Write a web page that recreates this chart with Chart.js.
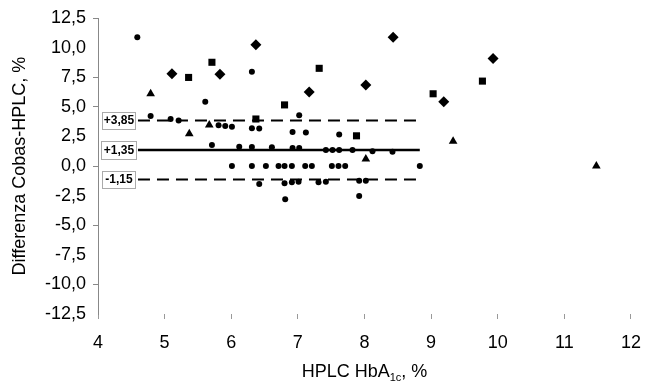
<!DOCTYPE html>
<html lang="it">
<head>
    <meta charset="UTF-8">
    <title>Cobas vs HPLC</title>
    <style>
        body{
            margin: 0;
            overflow: hidden;
            background: #fff;
            font-family: "Liberation Sans", Arial, sans-serif;
        }
        #wrap{
            width: 654px;
            height: 385px;
        }
    </style>
</head>
<body>
<div id="wrap"><canvas id="chart"></canvas></div>
<script src="https://cdn.jsdelivr.net/npm/chart.js"></script>
<script>
    // values: x = HPLC HbA1c (%), y = Cobas-HPLC difference (%)
    const circleX = [4.59, 6.31, 5.61, 4.79, 5.09, 5.21, 5.81, 5.91, 6.01, 6.31, 6.42, 7.02, 6.92, 7.12, 7.62,
        5.71, 6.12, 6.31, 6.61, 6.92, 7.02, 7.42, 7.52, 7.62, 7.82, 8.12, 8.42,
        6.01, 6.31, 6.52, 6.71, 6.80, 6.91, 7.11, 7.21, 7.51, 7.61, 7.71, 8.83,
        6.42, 6.80, 6.91, 7.01, 7.31, 7.42, 7.92, 8.02, 6.81, 7.92];
    const circleY = [10.87, 7.97, 5.42, 4.22, 3.97, 3.85, 3.44, 3.38, 3.31, 3.19, 3.17, 4.28, 2.88, 2.83, 2.66,
        1.77, 1.62, 1.60, 1.58, 1.52, 1.52, 1.36, 1.36, 1.36, 1.36, 1.24, 1.21,
        0, 0, 0, 0, 0, 0, 0, 0, 0, 0, 0, 0,
        -1.53, -1.45, -1.38, -1.33, -1.38, -1.33, -1.24, -1.24, -2.80, -2.54];

    const squareX = [5.36, 5.71, 6.80, 6.37, 7.32, 7.88, 9.03, 9.77];
    const squareY = [7.48, 8.76, 5.16, 3.97, 8.25, 2.55, 6.10, 7.17];

    const diamondX = [5.11, 5.83, 6.37, 7.17, 8.02, 8.43, 9.19, 9.93];
    const diamondY = [7.80, 7.74, 10.25, 6.24, 6.84, 10.87, 5.42, 9.07];

    const triangleX = [4.79, 5.37, 5.67, 8.02, 9.33, 11.48];
    const triangleY = [6.10, 2.73, 3.46, 0.60, 2.09, 0];

    // mean difference and limits of agreement
    const limits = [3.85, 1.35, -1.15];
    const limitLabels = ['+3,85', '+1,35', '-1,15'];
    const lineFrom = 4.6;
    const lineTo = 8.83;

    const yTicksShown = [12.5, 7.5, 5, 0, -5, -10];

    function pts(xs, ys){
        return xs.map((x, i) => ({x: x, y: ys[i]}));
    }
    function comma(v){
        return v.toFixed(1).replace('.', ',');
    }

    const markers = [
        {data: pts(circleX, circleY), pointStyle: 'circle', pointRadius: 3},
        {data: pts(squareX, squareY), pointStyle: 'rect', pointRadius: 5},
        {data: pts(diamondX, diamondY), pointStyle: 'rectRot', pointRadius: 5.5},
        {data: pts(triangleX, triangleY), pointStyle: 'triangle', pointRadius: 5}
    ].map(d => Object.assign(d, {
        backgroundColor: '#000',
        borderColor: '#000',
        borderWidth: 0,
        showLine: false,
        order: 1
    }));

    const lines = limits.map((v, i) => ({
        data: [{x: lineFrom, y: v}, {x: lineTo, y: v}],
        showLine: true,
        borderColor: '#000',
        borderWidth: i === 1 ? 2.5 : 2,
        borderDash: i === 1 ? [] : [12, 7],
        pointRadius: 0,
        order: 2
    }));

    // boxed labels for the three lines, and the x title with its subscript
    const extras = {
        id: 'extras',
        afterDatasetsDraw(chart){
            const ctx = chart.ctx;
            const ys = chart.scales.y;
            ctx.save();
            limits.forEach((v, i) => {
                const cy = ys.getPixelForValue(v);
                const w = i === 1 ? 35 : 33;
                const h = i === 1 ? 18 : 17;
                const x0 = i === 1 ? 101.5 : 102.5;
                ctx.fillStyle = '#fff';
                ctx.fillRect(x0, cy - h / 2, w, h);
                ctx.strokeStyle = '#aaa';
                ctx.lineWidth = 1;
                ctx.strokeRect(x0, Math.round(cy - h / 2) + 0.5, w, h);
                ctx.fillStyle = '#000';
                ctx.font = 'bold 12px "Liberation Sans", Arial, sans-serif';
                ctx.textAlign = 'center';
                ctx.textBaseline = 'middle';
                ctx.fillText(limitLabels[i], x0 + w / 2, cy + 0.5);
            });
            ctx.restore();
        },
        afterDraw(chart){
            const ctx = chart.ctx;
            const xs = chart.scales.x;
            const big = '18px "Liberation Sans", Arial, sans-serif';
            const small = '11px "Liberation Sans", Arial, sans-serif';
            const a = 'HPLC HbA', b = '1c', c = ', %';
            ctx.save();
            ctx.fillStyle = '#000';
            ctx.textBaseline = 'alphabetic';
            ctx.textAlign = 'left';
            ctx.font = big;
            const wa = ctx.measureText(a).width;
            const wc = ctx.measureText(c).width;
            ctx.font = small;
            const wb = ctx.measureText(b).width;
            const base = 377;
            let x = (xs.left + xs.right) / 2 - (wa + wb + wc) / 2;
            ctx.font = big;
            ctx.fillText(a, x, base);
            x += wa;
            ctx.font = small;
            ctx.fillText(b, x, base + 4);
            x += wb;
            ctx.font = big;
            ctx.fillText(c, x, base);
            ctx.restore();
        }
    };

    new Chart(document.getElementById('chart'), {
        type: 'scatter',
        data: {datasets: markers.concat(lines)},
        plugins: [extras],
        options: {
            responsive: true,
            maintainAspectRatio: false,
            animation: false,
            layout: {padding: {top: 18, right: 14, bottom: 0, left: 0}},
            plugins: {
                legend: {display: false},
                tooltip: {enabled: false}
            },
            scales: {
                x: {
                    type: 'linear',
                    min: 4,
                    max: 12,
                    afterFit: s => { s.height = 71; },
                    ticks: {
                        stepSize: 1,
                        color: '#000',
                        padding: 13,
                        font: {family: '"Liberation Sans", Arial, sans-serif', size: 18}
                    },
                    grid: {
                        drawOnChartArea: false,
                        tickLength: 5,
                        color: '#999'
                    },
                    border: {display: false}
                },
                y: {
                    min: -12.5,
                    max: 12.5,
                    afterFit: s => { s.width = 98; },
                    ticks: {
                        stepSize: 2.5,
                        color: '#000',
                        padding: 7,
                        font: {family: '"Liberation Sans", Arial, sans-serif', size: 18},
                        callback: v => comma(v)
                    },
                    grid: {
                        drawOnChartArea: false,
                        tickLength: 5,
                        color: ctx => yTicksShown.includes(ctx.tick && ctx.tick.value) ? '#888' : 'rgba(0,0,0,0)'
                    },
                    border: {display: true, color: '#888'},
                    title: {
                        display: true,
                        text: 'Differenza Cobas-HPLC, %',
                        color: '#000',
                        font: {family: '"Liberation Sans", Arial, sans-serif', size: 18},
                        padding: {top: 9, bottom: 0}
                    }
                }
            }
        }
    });
</script>
</body>
</html>
